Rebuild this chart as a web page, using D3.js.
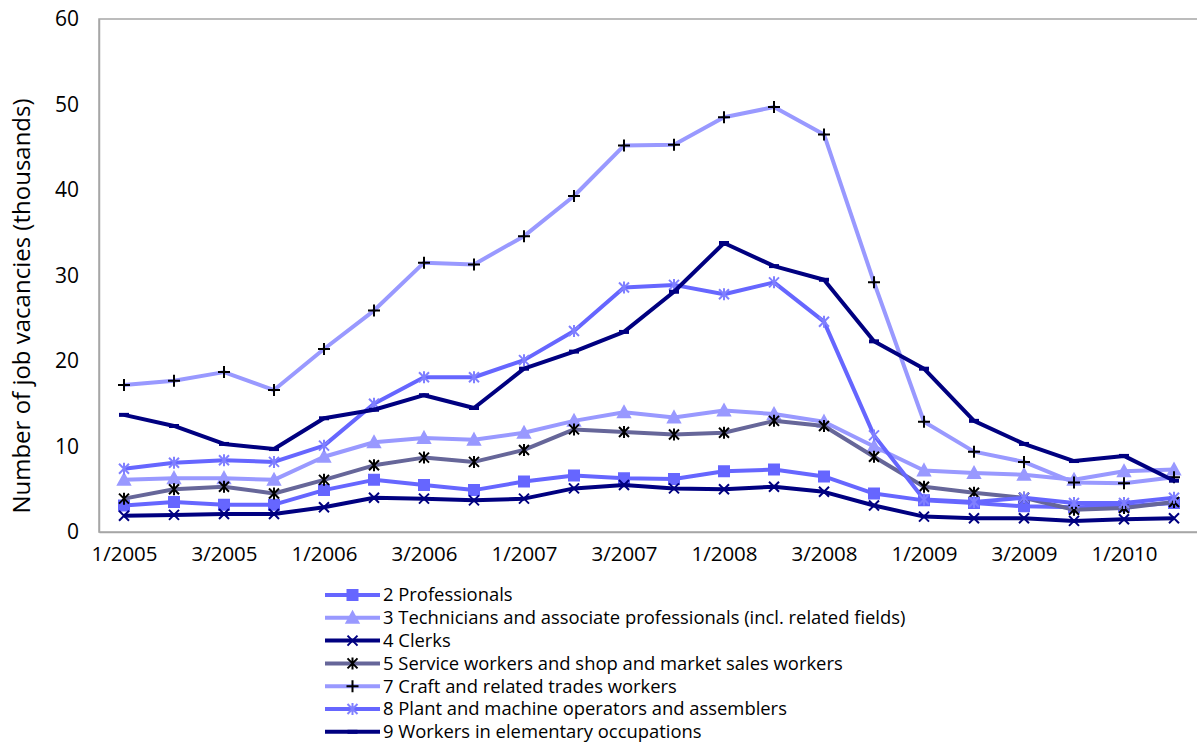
<!DOCTYPE html>
<html>
<head>
<meta charset="utf-8">
<script src="https://cdn.jsdelivr.net/npm/d3@7"></script>
<style>
  body { margin: 0; background: #fff; }
  text { font-family: "Open Sans", "Noto Sans", sans-serif; fill: #000; }
</style>
</head>
<body>
<svg width="1197" height="743"></svg>
<script>
const quarters = [
  "1/2005","2/2005","3/2005","4/2005",
  "1/2006","2/2006","3/2006","4/2006",
  "1/2007","2/2007","3/2007","4/2007",
  "1/2008","2/2008","3/2008","4/2008",
  "1/2009","2/2009","3/2009","4/2009",
  "1/2010","2/2010"
];
const seriesNames = [
  "2 Professionals",
  "3 Technicians and associate professionals (incl. related fields)",
  "4 Clerks",
  "5 Service workers and shop and market sales workers",
  "7 Craft and related trades workers",
  "8 Plant and machine operators and assemblers",
  "9 Workers in elementary occupations"
];
const professionals = [3.1,3.5,3.2,3.2,4.9,6.1,5.5,4.9,5.9,6.6,6.3,6.2,7.1,7.3,6.5,4.5,3.7,3.4,3.0,2.9,3.0,3.4];
const technicians   = [6.1,6.3,6.3,6.1,8.8,10.5,11.0,10.8,11.6,13.0,14.0,13.4,14.2,13.8,12.9,10.0,7.2,6.9,6.7,6.1,7.1,7.3];
const clerks        = [1.9,2.0,2.1,2.1,2.9,4.0,3.9,3.7,3.9,5.1,5.5,5.1,5.0,5.3,4.7,3.1,1.8,1.6,1.6,1.3,1.5,1.6];
const service       = [3.9,5.0,5.3,4.5,6.1,7.8,8.7,8.2,9.6,12.0,11.7,11.4,11.6,13.0,12.4,8.8,5.3,4.6,4.0,2.6,2.8,3.5];
const craft         = [17.2,17.7,18.7,16.6,21.4,25.9,31.5,31.3,34.6,39.3,45.2,45.3,48.5,49.7,46.5,29.2,12.9,9.4,8.2,5.8,5.7,6.4];
const plant         = [7.4,8.1,8.4,8.2,10.1,15.0,18.1,18.1,20.1,23.5,28.6,28.9,27.8,29.2,24.6,11.3,3.8,3.5,4.0,3.4,3.4,4.0];
const elementary    = [13.7,12.4,10.3,9.7,13.3,14.3,16.0,14.5,19.1,21.1,23.4,28.1,33.8,31.1,29.5,22.3,19.1,13.0,10.3,8.3,8.9,6.0];
const yTicks = [0,10,20,30,40,50,60];
const xTickLabels = quarters.filter((q, i) => i % 2 === 0);

const allValues = [professionals, technicians, clerks, service, craft, plant, elementary];

// line colour, marker type, marker fill/stroke
const styles = [
  {line: "#6666ff", marker: "square",   color: "#6666ff"},
  {line: "#9999ff", marker: "triangle", color: "#9999ff"},
  {line: "#000080", marker: "x",        color: "#000080"},
  {line: "#666699", marker: "star",     color: "#000000"},
  {line: "#9999ff", marker: "plus",     color: "#000000"},
  {line: "#6666ff", marker: "star",     color: "#8080ff"},
  {line: "#000080", marker: "dash",     color: "#000080"}
];

const svg = d3.select("svg");
const margin = {left: 99, top: 19, right: 1199, bottom: 532};

const x = d3.scalePoint().domain(quarters).range([margin.left, margin.right]).padding(0.5);
const y = d3.scaleLinear().domain([0, 60]).range([margin.bottom, margin.top]);

// plot area frame
svg.append("rect")
  .attr("x", margin.left).attr("y", margin.top)
  .attr("width", margin.right - margin.left)
  .attr("height", margin.bottom - margin.top)
  .attr("fill", "none").attr("stroke", "#a6a6a6").attr("stroke-width", 1.5);

const xAxis = svg.append("g")
  .attr("transform", `translate(0,${margin.bottom})`)
  .call(d3.axisBottom(x).tickValues(xTickLabels).tickSize(0).tickPadding(14));
xAxis.select(".domain").attr("stroke", "#a6a6a6").attr("stroke-width", 1.5);
xAxis.selectAll("text").style("font-size", "20.5px").style("font-family", "Open Sans");

const yAxis = svg.append("g")
  .attr("transform", `translate(${margin.left},0)`)
  .call(d3.axisLeft(y).tickValues(yTicks).tickSize(0).tickPadding(20));
yAxis.select(".domain").attr("stroke", "#a6a6a6").attr("stroke-width", 1.5);
yAxis.selectAll("text").style("font-size", "21px").style("font-family", "Open Sans");

svg.append("text")
  .attr("transform", "rotate(-90)")
  .attr("x", -306)
  .attr("y", 30)
  .attr("text-anchor", "middle")
  .style("font-size", "24px")
  .text("Number of job vacancies (thousands)");

function markerPath(type) {
  const s = 5;
  switch (type) {
    case "square":   return `M${-s},${-s}h${2*s}v${2*s}h${-2*s}Z`;
    case "triangle": return `M0,${-s-1}L${s+1},${s}L${-s-1},${s}Z`;
    case "x":        return `M${-s},${-s}L${s},${s}M${-s},${s}L${s},${-s}`;
    case "star":     return `M${-s},${-s}L${s},${s}M${-s},${s}L${s},${-s}M0,${-s-1}V${s+1}`;
    case "plus":     return `M${-s-1},0H${s+1}M0,${-s-1}V${s+1}`;
    case "dash":     return `M${-s},0H${s}`;
  }
}
function drawMarker(g, st) {
  const filled = st.marker === "square" || st.marker === "triangle";
  g.append("path")
    .attr("d", markerPath(st.marker))
    .attr("fill", filled ? st.color : "none")
    .attr("stroke", st.color)
    .attr("stroke-width", st.marker === "dash" ? 4 : 2);
}

const line = d3.line().x((d, i) => x(quarters[i])).y(d => y(d));

allValues.forEach((vals, k) => {
  const st = styles[k];
  const g = svg.append("g");
  g.append("path")
    .datum(vals)
    .attr("d", line)
    .attr("fill", "none")
    .attr("stroke", st.line)
    .attr("stroke-width", 4)
    .attr("stroke-linejoin", "round");
  vals.forEach((v, i) => {
    const m = g.append("g").attr("transform", `translate(${x(quarters[i])},${y(v)})`);
    drawMarker(m, st);
  });
});

// legend
const legend = svg.append("g").attr("transform", "translate(325,595)");
seriesNames.forEach((name, k) => {
  const st = styles[k];
  const row = legend.append("g").attr("transform", `translate(0,${k * 22.8})`);
  row.append("line")
    .attr("x1", 0).attr("x2", 55)
    .attr("stroke", st.line).attr("stroke-width", 4);
  const m = row.append("g").attr("transform", "translate(27.5,0)");
  drawMarker(m, st);
  row.append("text")
    .attr("x", 58).attr("dy", "0.35em")
    .style("font-size", "18.4px")
    .text(name);
});
</script>
</body>
</html>
